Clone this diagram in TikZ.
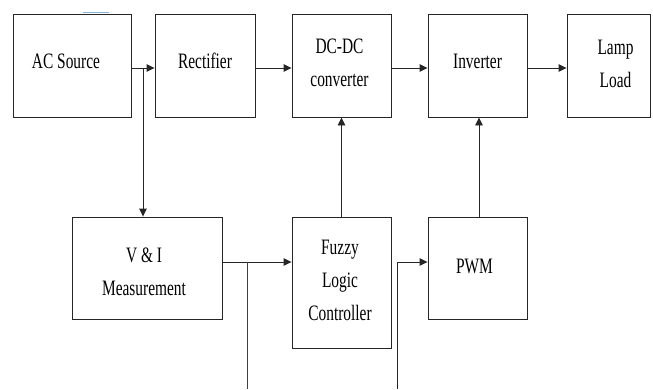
\documentclass[tikz,border=0pt]{standalone}
\usepackage{fontspec}
\setmainfont[FakeStretch=0.70]{Liberation Serif}
\usetikzlibrary{arrows.meta}
\newcommand{\boxtxt}[3]{\kern#1\raisebox{#2}[\height][\depth]{\begin{tabular}{@{}c@{}}#3\end{tabular}}\kern-#1}
\begin{document}
\begin{tikzpicture}[x=1pt,y=-1pt,
  box/.style={draw=black!85, line width=0.9pt, inner sep=0pt,
    font=\fontsize{22}{33}\selectfont},
  arr/.style={draw=black!85, line width=0.9pt, -{Triangle[length=8pt,width=7.5pt]}},
  ln/.style={draw=black!75, line width=0.9pt}]
\useasboundingbox (0,0) rectangle (653,389);
\draw[color={rgb,255:red,130;green,175;blue,225}, line width=1.5pt] (83,12.5) -- (109,12.5);
% top row
\node[box, minimum width=118pt, minimum height=103pt] (ac) at (72,65.5) {\boxtxt{-6pt}{3.5pt}{AC Source}};
\node[box, minimum width=100pt, minimum height=103pt] (rect) at (205,65.5) {\boxtxt{0pt}{3.5pt}{Rectifier}};
\node[box, minimum width=99pt, minimum height=103pt] (dcdc) at (341.5,65.5) {\boxtxt{-2pt}{2.5pt}{DC-DC\\converter}};
\node[box, minimum width=99pt, minimum height=103pt] (inv) at (477.5,65.5) {\boxtxt{0pt}{3.5pt}{Inverter}};
\node[box, minimum width=83pt, minimum height=103pt] (lamp) at (608.5,65.5) {\boxtxt{7pt}{1pt}{Lamp\\Load}};
% bottom row
\node[box, minimum width=150pt, minimum height=102pt] (vi) at (147,268) {\boxtxt{-3pt}{-4pt}{V \& I\\Measurement}};
\node[box, minimum width=99pt, minimum height=131pt] (flc) at (341.5,282.5) {\boxtxt{-1.5pt}{2pt}{Fuzzy\\Logic\\Controller}};
\node[box, minimum width=99pt, minimum height=102pt] (pwm) at (477.5,268) {\boxtxt{-3pt}{1.5pt}{PWM}};
% top chain
\draw[arr] ([yshift=-2.5pt]ac.east) -- ([yshift=-2.5pt]rect.west);
\draw[arr] ([yshift=-2.5pt]rect.east) -- ([yshift=-2.5pt]dcdc.west);
\draw[arr] ([yshift=-2.5pt]dcdc.east) -- ([yshift=-2.5pt]inv.west);
\draw[arr] ([yshift=-2.5pt]inv.east) -- ([yshift=-2.5pt]lamp.west);
% tap to measurement
\coordinate (tap) at (143,68);
\draw[arr] (tap) -- (tap |- vi.north);
% measurement to FLC
\draw[arr] ([yshift=6pt]vi.east) -- ([yshift=6pt]vi.east -| flc.west);
\coordinate (br) at (247,262);
\coordinate (brend) at (247,389);
\draw[ln] (br) -- (brend);
% FLC to DC-DC
\draw[arr] (flc.north) -- (dcdc.south);
% PWM input
\coordinate (pin) at (397,389);
\draw[arr] (pin) |- ([yshift=6pt]pwm.west);
% PWM to inverter
\draw[arr] ([xshift=1.5pt]pwm.north) -- ([xshift=1.5pt]inv.south);
\end{tikzpicture}
\end{document}
